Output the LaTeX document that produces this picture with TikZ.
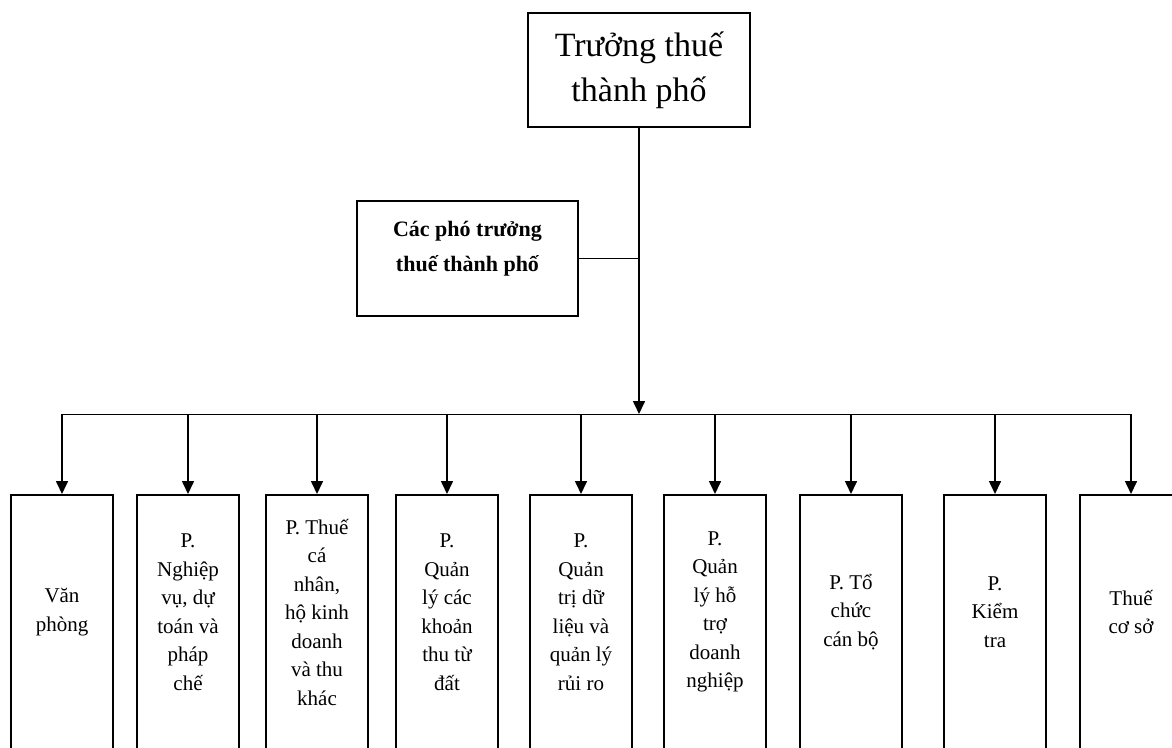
\documentclass[tikz,border=0pt]{standalone}
\usepackage{fontspec}
\setmainfont{Liberation Serif}
\usetikzlibrary{arrows.meta}

\begin{document}
\begin{tikzpicture}[x=1pt,y=-1pt,
    box/.style={draw, line width=1.6pt, inner sep=0pt},
    dept/.style={box, anchor=north, minimum width=102pt, minimum height=320pt},
    depttext/.style={align=center, font={\fontsize{21}{28.5}\selectfont}},
    arr/.style={line width=1.6pt, -{Triangle[width=12pt,length=13pt]}}]
      \def\boxtop{494}

      \useasboundingbox (0,0) rectangle (1172,747);
      \clip (0,0) rectangle (1172,747);

      \node[box, minimum width=222pt, minimum height=114pt, align=center,
            font={\fontsize{34}{45}\selectfont}] (head) at (639,70) {Trưởng thuế\\thành phố};
      \node[box, minimum width=221pt, minimum height=115pt] (vice) at (467.5,258.5) {};
      \node[align=center, font={\bfseries\fontsize{22}{35}\selectfont}, yshift=10pt] (vicetext) at (vice.center) {Các phó trưởng\\thuế thành phố};

      \coordinate (bus) at (639,414);
      \draw[arr] (head.south) -- (bus);
      \draw[line width=1pt] (vice.east) -- (vice.east -| head.south);

      \foreach \i/\x/\t in {1/62/{Văn\\phòng},
                            2/188/{P.\\Nghiệp\\vụ, dự\\toán và\\pháp\\chế},
                            3/317/{P. Thuế\\cá\\nhân,\\hộ kinh\\doanh\\và thu\\khác},
                            4/447/{P.\\Quản\\lý các\\khoản\\thu từ\\đất},
                            5/581/{P.\\Quản\\trị dữ\\liệu và\\quản lý\\rủi ro},
                            6/715/{P.\\Quản\\lý hỗ\\trợ\\doanh\\nghiệp},
                            7/851/{P. Tổ\\chức\\cán bộ},
                            8/995/{P.\\Kiểm\\tra},
                            9/1131/{Thuế\\cơ sở}} {
        \node[dept] (d\i) at (\x,\boxtop) {};
        \node[depttext] (dt\i) at (\x,612) {\t};
        \draw[arr] (d\i.north |- bus) -- (d\i.north);
      }
      \draw[line width=1pt] (d1.north |- bus) -- (d9.north |- bus);

    \end{tikzpicture}
\end{document}
